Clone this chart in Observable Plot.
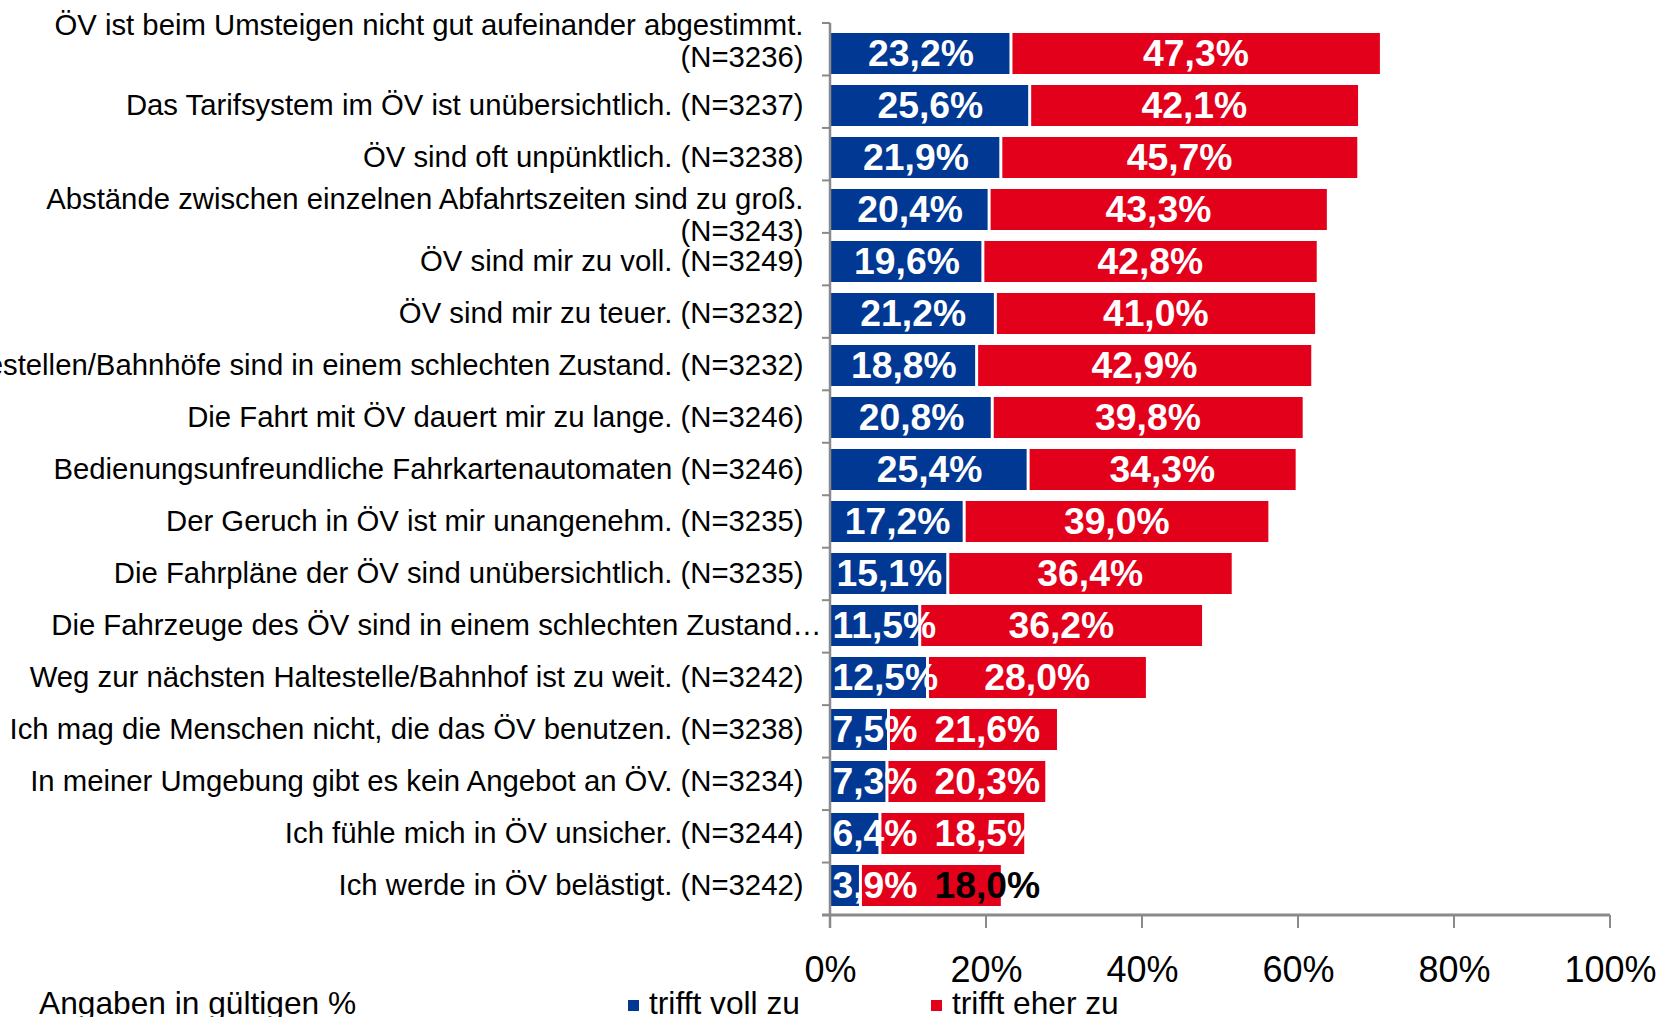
<!DOCTYPE html>
<html>
<head>
<meta charset="utf-8">
<script src="https://cdn.jsdelivr.net/npm/d3@7"></script>
<script src="https://cdn.jsdelivr.net/npm/@observablehq/plot@0.6"></script>
<style>
  html, body { margin: 0; padding: 0; background: #fff; width: 1668px; height: 1017px; overflow: hidden; }
  #wrap { position: relative; width: 1668px; height: 1017px; }
  #legend { position: absolute; left: 0; top: 987px; width: 1668px; height: 30px; line-height: 32px; color: #000; white-space: nowrap; }
  #legend span { position: absolute; top: 0; }
  #legend .sw { display: inline-block; width: 11px; height: 11px; position: absolute; top: 13px; }
</style>
</head>
<body>
<div id="wrap"><div id="chart"></div><div id="legend"></div></div>
<script>
// ---------- data ----------
const categories = [
  "ÖV ist beim Umsteigen nicht gut aufeinander abgestimmt.\n(N=3236)",
  "Das Tarifsystem im ÖV ist unübersichtlich. (N=3237)",
  "ÖV sind oft unpünktlich. (N=3238)",
  "Abstände zwischen einzelnen Abfahrtszeiten sind zu groß.\n(N=3243)",
  "ÖV sind mir zu voll. (N=3249)",
  "ÖV sind mir zu teuer. (N=3232)",
  "Haltestellen/Bahnhöfe sind in einem schlechten Zustand. (N=3232)",
  "Die Fahrt mit ÖV dauert mir zu lange. (N=3246)",
  "Bedienungsunfreundliche Fahrkartenautomaten (N=3246)",
  "Der Geruch in ÖV ist mir unangenehm. (N=3235)",
  "Die Fahrpläne der ÖV sind unübersichtlich. (N=3235)",
  "Die Fahrzeuge des ÖV sind in einem schlechten Zustand…",
  "Weg zur nächsten Haltestelle/Bahnhof ist zu weit. (N=3242)",
  "Ich mag die Menschen nicht, die das ÖV benutzen. (N=3238)",
  "In meiner Umgebung gibt es kein Angebot an ÖV. (N=3234)",
  "Ich fühle mich in ÖV unsicher. (N=3244)",
  "Ich werde in ÖV belästigt. (N=3242)"
];
const trifftVollZu  = [23.2, 25.6, 21.9, 20.4, 19.6, 21.2, 18.8, 20.8, 25.4, 17.2, 15.1, 11.5, 12.5, 7.5, 7.3, 6.4, 3.9];
const trifftEherZu  = [47.3, 42.1, 45.7, 43.3, 42.8, 41.0, 42.9, 39.8, 34.3, 39.0, 36.4, 36.2, 28.0, 21.6, 20.3, 18.5, 18.0];
const seriesNames = ["trifft voll zu", "trifft eher zu"];
const xTicks = [0, 20, 40, 60, 80, 100];
const noteText = "Angaben in gültigen %";

// ---------- style ----------
const BLUE = "#003893", RED = "#E3001B", GREY = "#8A8A8A";
const FONT = "'Liberation Sans', Arial, Helvetica, sans-serif";
const catSize = 29.3, valSize = 37.3, tickSize = 36, legSize = 31.7;

function textWidth(str, font) {
  const c = textWidth.c || (textWidth.c = document.createElement("canvas").getContext("2d"));
  c.font = font; return c.measureText(str).width;
}

const W = 1668, H = 990, mL = 830, mR = 58, mT = 23, mB = 75;
const pxPerUnit = (W - mL - mR) / 100;

const fmt = v => d3.format(".1f")(v).replace(".", ",") + "%";
const valFont = `bold ${valSize}px ${FONT}`;

const rows = categories.map((cat, i) => {
  const voll = trifftVollZu[i], eher = trifftEherZu[i];
  const bw = textWidth(fmt(voll), valFont), rw = textWidth(fmt(eher), valFont);
  const bCenterPx = Math.max(voll * pxPerUnit / 2, bw / 2 + 2);
  const rCenterPx = Math.max((voll + eher / 2) * pxPerUnit, bCenterPx + bw / 2 + 17 + rw / 2);
  const outside = rCenterPx + rw / 2 - (voll + eher) * pxPerUnit > 20;
  return {cat, voll, eher, bx: bCenterPx / pxPerUnit, rx: rCenterPx / pxPerUnit, rFill: outside ? "black" : "white"};
});

const wrapped = rows.filter(d => d.cat.includes("\n"));
const truncated = rows.filter(d => d.cat.endsWith("…"));
const single = rows.filter(d => !d.cat.includes("\n") && !d.cat.endsWith("…"));

function axesLines(index, scales, values, dims) {
  const {marginTop, marginBottom, height} = dims;
  const n = categories.length;
  const step = (height - marginTop - marginBottom) / n;
  const x0 = scales.x(0), x1 = scales.x(100), yb = height - marginBottom;
  const g = d3.create("svg:g").attr("stroke", GREY).attr("fill", "none");
  for (let i = 0; i < n; i++) {
    const y = marginTop + i * step;
    g.append("line").attr("x1", x0 - 8).attr("x2", x0).attr("y1", y).attr("y2", y).attr("stroke-width", 2);
  }
  g.append("line").attr("x1", x0).attr("x2", x0).attr("y1", marginTop).attr("y2", yb + 13).attr("stroke-width", 2.5);
  g.append("line").attr("x1", x0 - 8).attr("x2", x1).attr("y1", yb).attr("y2", yb).attr("stroke-width", 3);
  for (const t of xTicks) {
    const x = scales.x(t);
    g.append("line").attr("x1", x).attr("x2", x).attr("y1", yb).attr("y2", yb + 13).attr("stroke-width", 2);
  }
  return g.node();
}

const chart = Plot.plot({
  width: W, height: H,
  marginLeft: mL, marginRight: mR, marginTop: mT, marginBottom: mB,
  style: {fontFamily: FONT, background: "white", color: "black", overflow: "visible"},
  x: {domain: [0, 100], axis: null},
  y: {domain: categories, axis: null, paddingInner: 0.22, paddingOuter: 0.11},
  marks: [
    Plot.barX(rows, {y: "cat", x1: 0, x2: "voll", fill: BLUE, insetRight: 1.5}),
    Plot.barX(rows, {y: "cat", x1: "voll", x2: d => d.voll + d.eher, fill: RED, insetLeft: 1.5}),
    axesLines,
    Plot.axisX({ticks: xTicks, tickFormat: d => d + "%", tickSize: 0, tickPadding: 41, fontSize: tickSize, fill: "black", label: null}),
    Plot.text(rows, {x: "bx", y: "cat", text: d => fmt(d.voll), fill: "white", fontWeight: "bold", fontSize: valSize}),
    Plot.text(rows, {x: "rx", y: "cat", text: d => fmt(d.eher), fill: "rFill", fontWeight: "bold", fontSize: valSize}),
    Plot.text(single, {x: 0, y: "cat", text: "cat", textAnchor: "end", dx: -27, fontSize: catSize, fill: "black"}),
    Plot.text(wrapped.slice(0, 1), {x: 0, y: "cat", text: "cat", textAnchor: "end", dx: -27, dy: -13.5, lineHeight: 1.1, fontSize: catSize, fill: "black"}),
    Plot.text(wrapped.slice(1), {x: 0, y: "cat", text: "cat", textAnchor: "end", dx: -27, dy: 5, lineHeight: 1.1, fontSize: catSize, fill: "black"}),
    Plot.text(truncated, {x: 0, y: "cat", text: "cat", textAnchor: "end", dx: -9, fontSize: catSize, fill: "black"})
  ]
});
document.getElementById("chart").appendChild(chart);

// ---------- legend (below the svg) ----------
const legend = d3.select("#legend").style("font-family", FONT).style("font-size", legSize + "px");
legend.append("span").style("left", "39px").text(noteText);
const legendItems = [{name: seriesNames[0], color: BLUE, x: 628}, {name: seriesNames[1], color: RED, x: 931}];
for (const it of legendItems) {
  legend.append("span").attr("class", "sw").style("left", it.x + "px").style("background", it.color);
  legend.append("span").style("left", (it.x + 21) + "px").text(it.name);
}
</script>
</body>
</html>
